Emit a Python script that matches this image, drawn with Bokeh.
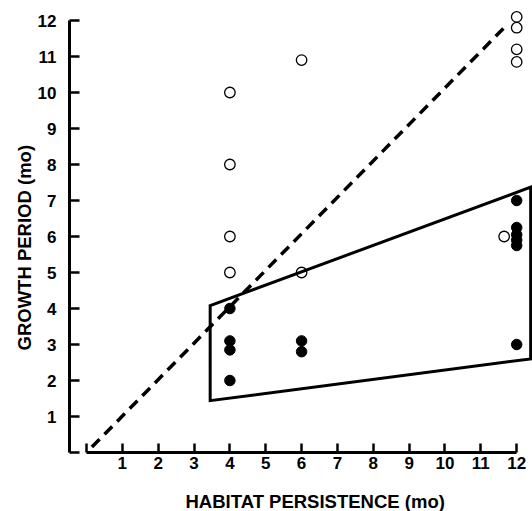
from bokeh.plotting import figure
from bokeh.models import FixedTicker, Range1d, Title
from bokeh.embed import file_html
from bokeh.resources import INLINE

# ---- data ----
tick_values = list(range(0, 13))
tick_labels = {0: ""}
tick_labels.update({i: str(i) for i in range(1, 13)})

open_x = [4, 4, 4, 4, 6, 6, 12, 12, 12, 12, 11.65]
open_y = [10, 8, 6, 5, 10.9, 5, 12.1, 11.8, 11.2, 10.85, 6]

filled_x = [4, 4, 4, 4, 6, 6, 12, 12, 12, 12, 12, 12]
filled_y = [4, 3.1, 2.85, 2, 3.1, 2.8, 7, 6.25, 6.05, 5.9, 5.75, 3]

envelope_x = [3.45, 12.39, 12.39, 3.45]
envelope_y = [4.08, 7.37, 2.6, 1.44]

ref_line_x = [0.15, 11.7]
ref_line_y = [0.15, 11.85]

x_title = "HABITAT PERSISTENCE (mo)"
y_title = "GROWTH PERIOD (mo)"

FONT = "Liberation Sans"

p = figure(width=532, height=511,
           x_range=Range1d(-0.474, 12.441), y_range=Range1d(-1.0, 12.556),
           output_backend="svg", toolbar_location=None,
           min_border_left=69, min_border_right=0,
           min_border_top=0, min_border_bottom=23)
p.outline_line_color = None
p.background_fill_color = "white"
p.border_fill_color = "white"
p.xgrid.visible = False
p.ygrid.visible = False

for ax in (p.xaxis[0], p.yaxis[0]):
    ax.bounds = (0, 12)
    ax.ticker = FixedTicker(ticks=tick_values)
    ax.major_label_overrides = tick_labels
    ax.axis_line_width = 3
    ax.axis_line_color = "black"
    ax.major_tick_line_width = 2.5
    ax.major_tick_line_color = "black"
    ax.major_tick_out = 0
    ax.minor_tick_line_color = None
    ax.major_label_text_font = FONT
    ax.major_label_text_font_style = "bold"
    ax.major_label_text_font_size = "17px"
    ax.major_label_text_color = "black"

p.xaxis.fixed_location = 0
p.xaxis.major_tick_in = 9
p.yaxis.major_tick_in = 10
p.xaxis.major_label_standoff = 4
p.yaxis.major_label_standoff = 13

# envelope polygon
p.patch(envelope_x, envelope_y, fill_color=None, line_color="black",
        line_width=3, line_join="miter")

# dashed 1:1 line
p.line(ref_line_x, ref_line_y, line_color="black", line_width=3.5,
       line_dash="11 7")

# points
p.scatter(open_x, open_y, marker="circle", size=10.5, fill_color=None,
          line_color="black", line_width=1.3)
p.scatter(filled_x, filled_y, marker="circle", size=10.5, fill_color="black",
          line_color="black", line_width=1)

p.add_layout(Title(text=x_title, align="left", offset=116, standoff=0,
                   text_font=FONT, text_font_style="bold",
                   text_font_size="18.5px", text_color="black"), "below")
p.add_layout(Title(text=y_title, align="left", offset=138, standoff=0,
                   text_font=FONT, text_font_style="bold",
                   text_font_size="18.5px", text_color="black"), "left")

open("out.html", "w").write(file_html(p, INLINE))
